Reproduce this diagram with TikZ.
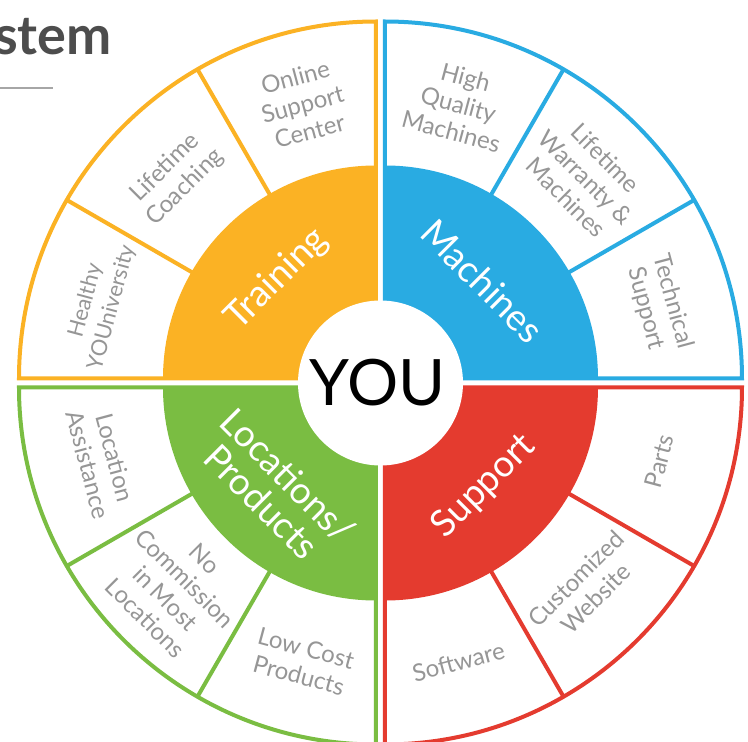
\documentclass[tikz,border=0pt]{standalone}
\usepackage{fontspec}
\setmainfont{Lato}
\usepackage{xcolor}
\usepackage{tikz}
\usetikzlibrary{positioning}
\definecolor{trainYellow}{RGB}{251,178,36}
\definecolor{machBlue}{RGB}{41,171,226}
\definecolor{locGreen}{RGB}{122,189,66}
\definecolor{suppRed}{RGB}{228,59,47}
\definecolor{cellGray}{RGB}{150,150,150}
\definecolor{titleGray}{RGB}{77,77,77}

\begin{document}
\begin{tikzpicture}[
      x=1pt, y=1pt,
      ring/.style={line width=4pt, fill=white},
      divider/.style={line width=4pt},
      cell/.style={text=cellGray, align=center, inner sep=0pt, font=\fontsize{24}{28}\selectfont},
      hub/.style={text=white, align=center, inner sep=0pt, font=\fontsize{37}{37}\selectfont}
    ]
    \useasboundingbox (-380.5,-359) rectangle (367.5,383);
    \clip (-380.5,-359) rectangle (367.5,383);

    \node[anchor=base east, text=titleGray, inner sep=0pt, font=\fontsize{54}{54}\selectfont\bfseries] (title) at (-268.5,328) {stem};
    \coordinate (ruleL) at (-382,295);
    \coordinate (ruleR) at (-327.5,295);
    \draw[line width=1.5pt, black!35] (ruleL) -- (ruleR);

    \begin{scope}[shift={(-4.5,4.5)}]
      \draw[ring, draw=trainYellow] (0,0) -- (90:357) arc[start angle=90, end angle=180, radius=357] -- cycle;
      \draw[divider, trainYellow] (120:200) -- (120:357) (150:200) -- (150:357);
      \fill[trainYellow] (0,0) -- (90:213) arc[start angle=90, end angle=180, radius=213] -- cycle;
      \node[cell, rotate=15] (online) at (105:284) {Online\\Support\\Center};
      \node[cell, rotate=45] (coaching) at (135:284) {Lifetime\\Coaching};
      \node[cell, rotate=75, font=\fontsize{22}{27}\selectfont] (youniv) at (165:287) {Healthy\\YOUniversity};
      \node[hub, rotate=45] (training) at (135:140) {Training};
    \end{scope}

    \begin{scope}[shift={(4.5,4.5)}]
      \draw[ring, draw=machBlue] (0,0) -- (0:357) arc[start angle=0, end angle=90, radius=357] -- cycle;
      \draw[divider, machBlue] (30:200) -- (30:357) (60:200) -- (60:357);
      \fill[machBlue] (0,0) -- (0:213) arc[start angle=0, end angle=90, radius=213] -- cycle;
      \node[cell, rotate=-15] (quality) at (75:284) {High\\Quality\\Machines};
      \node[cell, rotate=-45] (warranty) at (45:284) {Lifetime\\Warranty \&\\Machines};
      \node[cell, rotate=-75] (technical) at (15:284) {Technical\\Support};
      \node[hub, rotate=-45] (machines) at (45:138) {Machines};
    \end{scope}

    \begin{scope}[shift={(-4.5,-4.5)}]
      \draw[ring, draw=locGreen] (0,0) -- (180:357) arc[start angle=180, end angle=270, radius=357] -- cycle;
      \draw[divider, locGreen] (210:200) -- (210:357) (240:200) -- (240:357);
      \fill[locGreen] (0,0) -- (180:213) arc[start angle=180, end angle=270, radius=213] -- cycle;
      \node[cell, rotate=-75] (assist) at (195:284) {Location\\Assistance};
      \node[cell, rotate=-45] (commission) at (225:284) {No\\Commission\\in Most\\Locations};
      \node[cell, rotate=-15] (lowcost) at (255:284) {Low Cost\\Products};
      \node[hub, rotate=-45] (locprod) at (225:143) {Locations/\\Products};
    \end{scope}

    \begin{scope}[shift={(4.5,-4.5)}]
      \draw[ring, draw=suppRed] (0,0) -- (270:357) arc[start angle=270, end angle=360, radius=357] -- cycle;
      \draw[divider, suppRed] (300:200) -- (300:357) (330:200) -- (330:357);
      \fill[suppRed] (0,0) -- (270:213) arc[start angle=270, end angle=360, radius=213] -- cycle;
      \node[cell, rotate=15] (software) at (285:284) {Software};
      \node[cell, rotate=45] (website) at (315:284) {Customized\\Website};
      \node[cell, rotate=75] (parts) at (345:284) {Parts};
      \node[hub, rotate=45] (support) at (315:140) {Support};
    \end{scope}

    \fill[white] (0,0) circle[radius=82.5];
    \node[inner sep=0pt, font=\fontsize{64}{64}\selectfont] (you) at (-3,0) {YOU};
  \end{tikzpicture}
\end{document}
